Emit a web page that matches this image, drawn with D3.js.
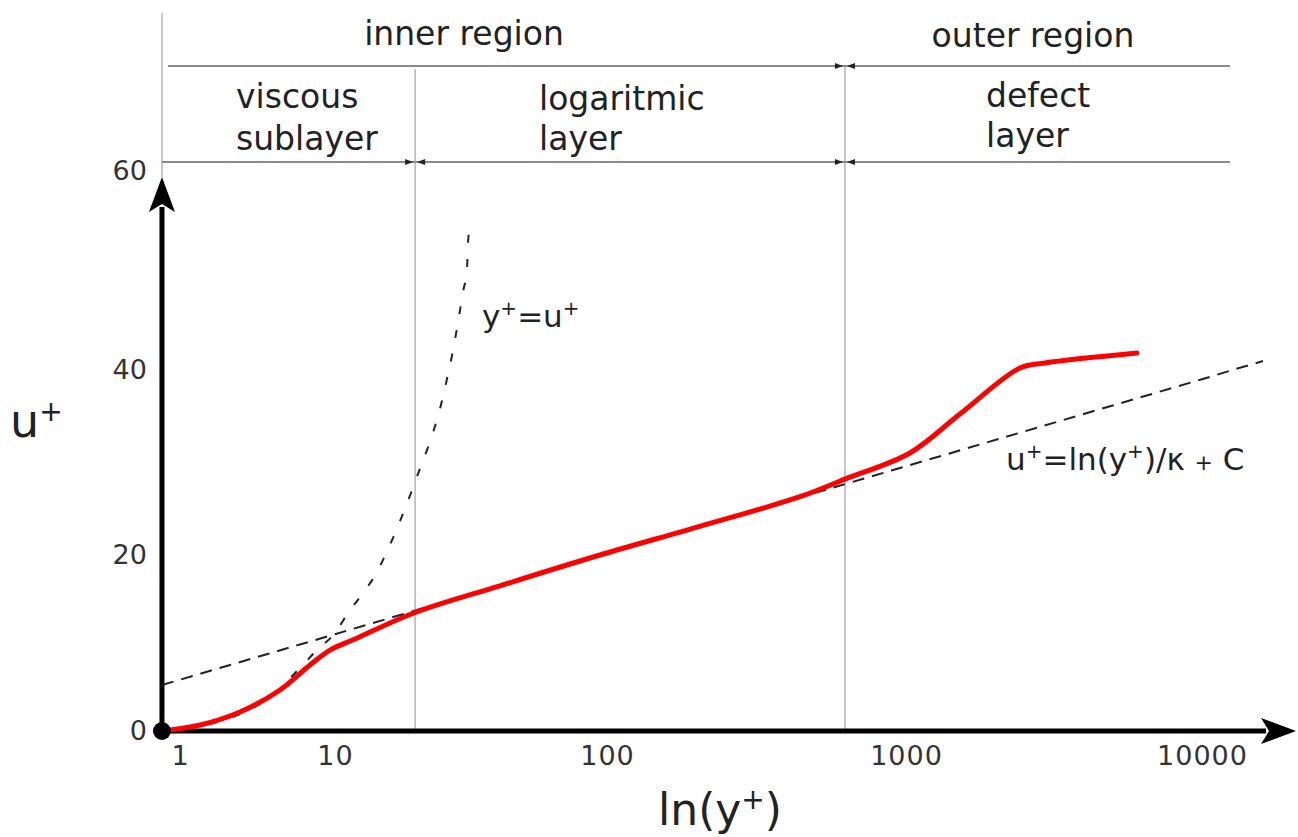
<!DOCTYPE html>
<html>
<head>
<meta charset="utf-8">
<script src="https://cdn.jsdelivr.net/npm/d3@7"></script>
<style>
  body { margin: 0; background: #fff; }
  text { font-family: "DejaVu Sans", sans-serif; }
</style>
</head>
<body>
<div id="graphDiv"></div>
<script>
// tick values
var xTicks = [1, 10, 100, 1000, 10000];
var yTicks = [0, 20, 40, 60];

// measured profile (y+, u+)
var profileY = [0.765, 1.35, 2.44, 4.42, 6.90, 9.29, 11.85, 19.5, 40.4, 94.2, 204.6, 442, 625, 1031, 1522, 2427, 2949, 6026];
var profileU = [0, 0.68, 2.16, 4.66, 7.5, 9.2, 10.45, 13.41, 16.5, 20.0, 23.1, 26.3, 28.2, 31.03, 35.24, 40.2, 40.7, 41.7];

// viscous sublayer law y+ = u+
var viscousY = [0.765, 1.35, 2.44, 3.81, 5.94, 7.65, 10, 11.16, 12.68, 14.27, 15.31, 19.5, 25.38, 26.23, 26.48, 27.6, 28.58, 29.56, 30.57, 30.83, 31.36];
var viscousU = [0, 0.57, 1.93, 3.86, 7.16, 9.2, 11.14, 13.41, 15.68, 18.07, 20, 27.57, 38.05, 40, 40.5, 43.0, 45.43, 47.84, 50.25, 52.66, 54.87];

// log law u+ = ln(y+)/k + C
var logLawY = [0.765, 10, 97.3, 100, 1000, 10000, 12660, 16070];
var logLawU = [5.23, 11.0, 20, 20.1, 29.6, 39.0, 40, 40.9];

// region boundaries in y+
var bounds = [19.7, 625];

var width = 1298, height = 837;

var svg = d3.select("#graphDiv")
  .append("svg")
    .attr("width", width)
    .attr("height", height);

// hand drawn scales: every decade has its own length
var x = d3.scaleLog()
  .domain(xTicks)
  .range([180, 335, 607, 906, 1202]);

var y = d3.scaleLinear()
  .domain(yTicks)
  .range([731, 555, 370, 171]);

var x0 = x(0.765), y0 = y(0);
var xEnd = 1296, yEnd = 177, headRight = 1230;

// region lines
svg.append("line")
  .attr("x1", x0).attr("x2", x0)
  .attr("y1", 13).attr("y2", yEnd)
  .attr("stroke", "#b5b5b5").attr("stroke-width", 1.5);

svg.selectAll(".bound")
  .data(bounds)
  .enter()
  .append("line")
    .attr("class", "bound")
    .attr("x1", function (d) { return x(d); })
    .attr("x2", function (d) { return x(d); })
    .attr("y1", function (d, i) { return i == 0 ? 69 : 66; })
    .attr("y2", y0)
    .attr("stroke", "#b5b5b5")
    .attr("stroke-width", 1.5);

// header lines
svg.append("line")
  .attr("x1", x0 + 6).attr("x2", headRight)
  .attr("y1", 66).attr("y2", 66)
  .attr("stroke", "#8a8a8a").attr("stroke-width", 2);
svg.append("line")
  .attr("x1", x0).attr("x2", headRight)
  .attr("y1", 162).attr("y2", 162)
  .attr("stroke", "#8a8a8a").attr("stroke-width", 2);

// small arrows pointing at the boundaries
var heads = [{b: bounds[1], y: 66}, {b: bounds[0], y: 162}, {b: bounds[1], y: 162}];
heads.forEach(function (h) {
  var bx = x(h.b);
  svg.append("path")
    .attr("d", "M" + (bx - 2) + "," + h.y + "l-8,-3v6z")
    .attr("fill", "#222");
  svg.append("path")
    .attr("d", "M" + (bx + 2) + "," + h.y + "l8,-3v6z")
    .attr("fill", "#222");
});

// header texts
var head = svg.append("g")
  .attr("font-size", 33)
  .attr("fill", "#222");
head.append("text").attr("x", 464).attr("y", 45).attr("text-anchor", "middle").text("inner region");
head.append("text").attr("x", 1033).attr("y", 47).attr("text-anchor", "middle").text("outer region");
head.append("text").attr("x", 236).attr("y", 108).text("viscous");
head.append("text").attr("x", 236).attr("y", 150).text("sublayer");
head.append("text").attr("x", 539).attr("y", 110).text("logaritmic");
head.append("text").attr("x", 539).attr("y", 150).text("layer");
head.append("text").attr("x", 986).attr("y", 107).text("defect");
head.append("text").attr("x", 986).attr("y", 147).text("layer");

// Add X axis
svg.append("g")
  .attr("id", "xAxis")
  .attr("transform", "translate(0," + y0 + ")")
  .call(d3.axisBottom(x).tickValues(xTicks).tickFormat(d3.format("d")).tickSize(0).tickPadding(15))
  .call(function (g) { g.select(".domain").remove(); })
  .selectAll("text")
    .attr("font-size", 27)
    .attr("font-family", "DejaVu Sans")
    .attr("letter-spacing", 1)
    .attr("fill", "#333");

// Add Y axis
svg.append("g")
  .attr("id", "yAxis")
  .attr("transform", "translate(" + x0 + ",0)")
  .call(d3.axisLeft(y).tickValues(yTicks).tickSize(0).tickPadding(15))
  .call(function (g) { g.select(".domain").remove(); })
  .selectAll("text")
    .attr("font-size", 27)
    .attr("font-family", "DejaVu Sans")
    .attr("fill", "#333");

// axis lines with arrows
svg.append("line")
  .attr("x1", x0).attr("x2", xEnd - 30)
  .attr("y1", y0).attr("y2", y0)
  .attr("stroke", "#000").attr("stroke-width", 5);
svg.append("path")
  .attr("d", "M" + xEnd + "," + y0 + "l-35,-13l8,13l-8,13z")
  .attr("fill", "#000");
svg.append("line")
  .attr("x1", x0).attr("x2", x0)
  .attr("y1", y0).attr("y2", yEnd + 30)
  .attr("stroke", "#000").attr("stroke-width", 5);
svg.append("path")
  .attr("d", "M" + x0 + "," + yEnd + "l-13,35l13,-8l13,8z")
  .attr("fill", "#000");

// lines
var line = d3.line()
  .x(function (d) { return x(d[0]); })
  .y(function (d) { return y(d[1]); });

svg.append("path")
  .datum(d3.zip(logLawY, logLawU))
  .attr("d", line)
  .attr("fill", "none")
  .attr("stroke", "#222")
  .attr("stroke-width", 2)
  .attr("stroke-dasharray", "12,8");

svg.append("path")
  .datum(d3.zip(viscousY, viscousU))
  .attr("d", line.curve(d3.curveMonotoneX))
  .attr("fill", "none")
  .attr("stroke", "#222")
  .attr("stroke-width", 2)
  .attr("stroke-dasharray", "8,16");

svg.append("path")
  .datum(d3.zip(profileY, profileU))
  .attr("d", line.curve(d3.curveCatmullRom.alpha(0.5)))
  .attr("fill", "none")
  .attr("stroke", "#ff0000")
  .attr("stroke-width", 5)
  .attr("stroke-linecap", "round");

// origin dot
svg.append("circle")
  .attr("cx", x0).attr("cy", y0).attr("r", 9)
  .attr("fill", "#000");

// law labels
var lab = svg.append("g").attr("fill", "#222");
var t1 = lab.append("text").attr("x", 482).attr("y", 327).attr("font-size", 31);
t1.append("tspan").text("y");
t1.append("tspan").attr("baseline-shift", "super").attr("font-size", 20).text("+");
t1.append("tspan").text("=u");
t1.append("tspan").attr("baseline-shift", "super").attr("font-size", 20).text("+");

var t2 = lab.append("text").attr("x", 1006).attr("y", 470).attr("font-size", 31);
t2.append("tspan").text("u");
t2.append("tspan").attr("baseline-shift", "super").attr("font-size", 20).text("+");
t2.append("tspan").text("=ln(y");
t2.append("tspan").attr("baseline-shift", "super").attr("font-size", 20).text("+");
t2.append("tspan").text(")/κ ");
t2.append("tspan").attr("font-size", 22).text("+");
t2.append("tspan").text(" C");

// axis labels
var t3 = lab.append("text").attr("x", 10).attr("y", 437).attr("font-size", 46);
t3.append("tspan").text("u");
t3.append("tspan").attr("baseline-shift", "super").attr("font-size", 28).text("+");

var t4 = lab.append("text").attr("x", 720).attr("y", 825).attr("font-size", 44).attr("text-anchor", "middle");
t4.append("tspan").text("ln(y");
t4.append("tspan").attr("baseline-shift", "super").attr("font-size", 28).text("+");
t4.append("tspan").text(")");
</script>
</body>
</html>
